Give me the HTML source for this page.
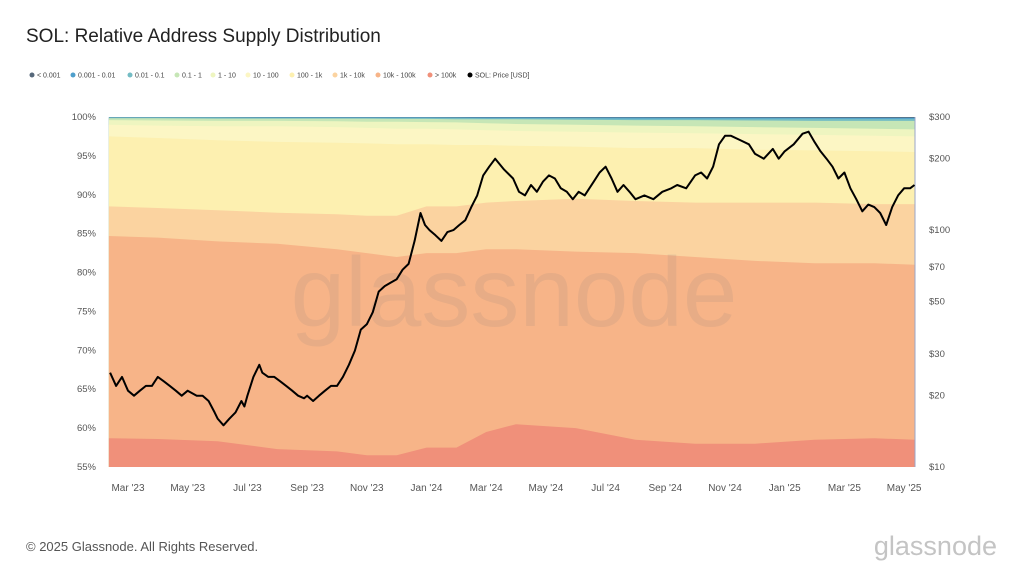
<!DOCTYPE html>
<html><head><meta charset="utf-8">
<style>
body{margin:0;background:#fff;font-family:"Liberation Sans",sans-serif;}
#wrap{position:relative;width:1024px;height:576px;overflow:hidden;}
</style></head>
<body>
<div id="wrap">
<svg id="svg" width="1024" height="576" xmlns="http://www.w3.org/2000/svg">
<text x="26" y="42" font-size="19" fill="#222">SOL: Relative Address Supply Distribution</text>
<g id="legend"></g>
<g id="bands"></g>
<text x="514" y="326" font-size="98" fill="#7a7a7a" fill-opacity="0.13" text-anchor="middle">glassnode</text>
<g id="price"></g>
<g id="yleft"></g>
<g id="yright"></g>
<g id="xaxis"></g>
<text x="26" y="551" font-size="13" fill="#555">© 2025 Glassnode. All Rights Reserved.</text>
<text x="997" y="555" font-size="27" fill="#c4c4c4" text-anchor="end">glassnode</text>
</svg>
</div>
<script>
const bandNames=["> 100k","10k - 100k","1k - 10k","100 - 1k","10 - 100","1 - 10","0.1 - 1","0.01 - 0.1","0.001 - 0.01","< 0.001"];
const bandColors=["#f0907a","#f7b488","#fbd3a0","#fdf0b0","#fcf6c4","#eef5c0","#c6e6b6","#74bcc4","#4f9fcc","#56687a"];
const bandMonths=[0.36,2,4,6,8,9,10,11,12,13,14,16,18,20,22,24,26,27.37];
const top100k=[58.7,58.6,58.3,57.3,57,56.5,56.5,57.5,57.5,59.5,60.5,60,58.5,58,58,58.5,58.7,58.5];
const top10k=[84.7,84.5,84,83.7,83,82.5,82,82.5,82.5,83,83,82.7,82.5,82,81.5,81.2,81.2,81];
const top1k=[88.5,88.3,88,87.7,87.5,87.3,87.3,88.5,88.5,89,89.2,89.5,89.2,89,89,89,88.8,88.8];
const top100=[97.5,97.3,97,96.8,96.7,96.6,96.5,96.5,96.4,96.4,96.3,96.2,96,96,95.8,95.7,95.6,95.5];
const top10=[99,98.9,98.8,98.8,98.7,98.6,98.5,98.5,98.4,98.3,98.2,98.1,98,97.9,97.8,97.7,97.6,97.5];
const top1=[99.6,99.55,99.5,99.5,99.45,99.4,99.4,99.35,99.3,99.2,99.1,99,98.9,98.8,98.7,98.6,98.5,98.4];
const top01=[99.85,99.85,99.8,99.8,99.8,99.8,99.75,99.75,99.7,99.7,99.7,99.65,99.6,99.6,99.55,99.5,99.5,99.5];
const top001=[99.95,99.95,99.95,99.9,99.9,99.9,99.9,99.9,99.9,99.85,99.85,99.85,99.8,99.8,99.8,99.8,99.75,99.75];
const top0001=[99.98,99.98,99.98,99.97,99.97,99.96,99.96,99.96,99.95,99.95,99.95,99.94,99.93,99.92,99.92,99.91,99.9,99.9];
const top0=[100,100,100,100,100,100,100,100,100,100,100,100,100,100,100,100,100,100];
const priceMonths=[0.4,0.6,0.8,1.0,1.2,1.4,1.6,1.8,2.0,2.2,2.4,2.6,2.8,3.0,3.3,3.5,3.7,3.9,4.0,4.2,4.4,4.6,4.8,4.9,5.0,5.2,5.4,5.5,5.7,5.9,6.1,6.3,6.5,6.7,6.9,7.0,7.2,7.4,7.6,7.8,8.0,8.2,8.4,8.6,8.8,9.0,9.2,9.4,9.6,9.8,10.0,10.2,10.4,10.6,10.8,10.95,11.1,11.3,11.5,11.7,11.9,12.1,12.3,12.5,12.7,12.9,13.1,13.3,13.6,13.9,14.1,14.3,14.5,14.7,14.9,15.1,15.3,15.5,15.7,15.9,16.1,16.3,16.6,16.8,17.0,17.2,17.4,17.6,17.8,18.0,18.3,18.6,18.9,19.2,19.4,19.7,20.0,20.2,20.4,20.6,20.8,21.0,21.2,21.5,21.8,22.0,22.3,22.6,22.8,23.0,23.3,23.6,23.8,24.0,24.2,24.4,24.6,24.8,25.0,25.2,25.4,25.6,25.8,26.0,26.2,26.4,26.6,26.8,27.0,27.2,27.35];
const priceValues=[25,22,24,21,20,21,22,22,24,23,22,21,20,21,20,20,19,17,16,15,16,17,19,18,20,24,27,25,24,24,23,22,21,20,19.5,20,19,20,21,22,22,24,27,31,38,40,45,55,58,60,62,68,72,90,118,105,100,95,90,98,100,105,110,125,140,170,185,200,180,165,145,140,155,145,160,170,165,150,145,135,145,140,160,175,185,165,145,155,145,135,140,135,145,150,155,150,170,175,165,185,230,250,250,240,230,210,200,220,200,215,230,255,260,235,215,200,185,165,175,150,135,120,128,125,118,105,125,140,150,150,155,160,175];
const yLeftTicks=[55,60,65,70,75,80,85,90,95,100];
const yRightTicks=[10,20,30,50,70,100,200,300];
const xTickLabels=["Mar '23","May '23","Jul '23","Sep '23","Nov '23","Jan '24","Mar '24","May '24","Jul '24","Sep '24","Nov '24","Jan '25","Mar '25","May '25"];
const xTickMonths=[1,3,5,7,9,11,13,15,17,19,21,23,25,27];

const NS="http://www.w3.org/2000/svg";
const L=109,R=915,T=117,B=467;
const xs=m=>128+(m-1)*29.85;
const yl=p=>B-(p-55)/45*(B-T);
const yr=v=>B-Math.log10(v/10)/Math.log10(30)*(B-T);
function mk(tag,attrs,parent){const e=document.createElementNS(NS,tag);for(const k in attrs)e.setAttribute(k,attrs[k]);parent.appendChild(e);return e;}

// legend
const leg=document.getElementById('legend');
const legItems=bandNames.slice().reverse().concat(["SOL: Price [USD]"]);
const legCols=bandColors.slice().reverse().concat(["#000"]);
const legX=[32,73,130,177,213,248,292,335,378,430,470];
legItems.forEach((n,i)=>{
  const g=mk('g',{},leg);
  
  
  mk('circle',{cx:legX[i],cy:75,r:2.5,fill:legCols[i]},g);
  const t=mk('text',{x:legX[i]+5,y:77.5,'font-size':7,fill:'#444'},g);t.textContent=n;
});

// bands
const tops=[top100k,top10k,top1k,top100,top10,top1,top01,top001,top0001,top0];
const bg=document.getElementById('bands');
for(let b=tops.length-1;b>=0;b--){
  let d="M"+xs(bandMonths[0])+","+B;
  tops[b].forEach((v,i)=>{d+=" L"+xs(bandMonths[i]).toFixed(1)+","+yl(v).toFixed(1);});
  d+=" L"+xs(bandMonths[bandMonths.length-1])+","+B+" Z";
  const p=mk('path',{d:d,fill:bandColors[b]},bg);
  
  
}
mk('line',{x1:R,y1:T,x2:R,y2:B,stroke:'#9aa6c8','stroke-width':1},bg);

// price
let pd="";
priceMonths.forEach((m,i)=>{pd+=(i?" L":"M")+xs(m).toFixed(1)+","+yr(priceValues[i]).toFixed(1);});
const pl=mk('path',{d:pd,fill:'none',stroke:'#000','stroke-width':2,'stroke-linejoin':'round'},document.getElementById('price'));



// axes
const yL=document.getElementById('yleft');
yLeftTicks.forEach(v=>{const t=mk('text',{x:96,y:yl(v)+3,'font-size':9.5,fill:'#555','text-anchor':'end'},yL);t.textContent=v+'%';

});
const yR=document.getElementById('yright');
yRightTicks.forEach(v=>{const t=mk('text',{x:929,y:yr(v)+3,'font-size':9.5,fill:'#555'},yR);t.textContent='$'+v;

});
const xA=document.getElementById('xaxis');
xTickMonths.forEach((m,i)=>{const t=mk('text',{x:xs(m),y:491,'font-size':10,fill:'#555','text-anchor':'middle'},xA);t.textContent=xTickLabels[i];

});
</script>
</body></html>
